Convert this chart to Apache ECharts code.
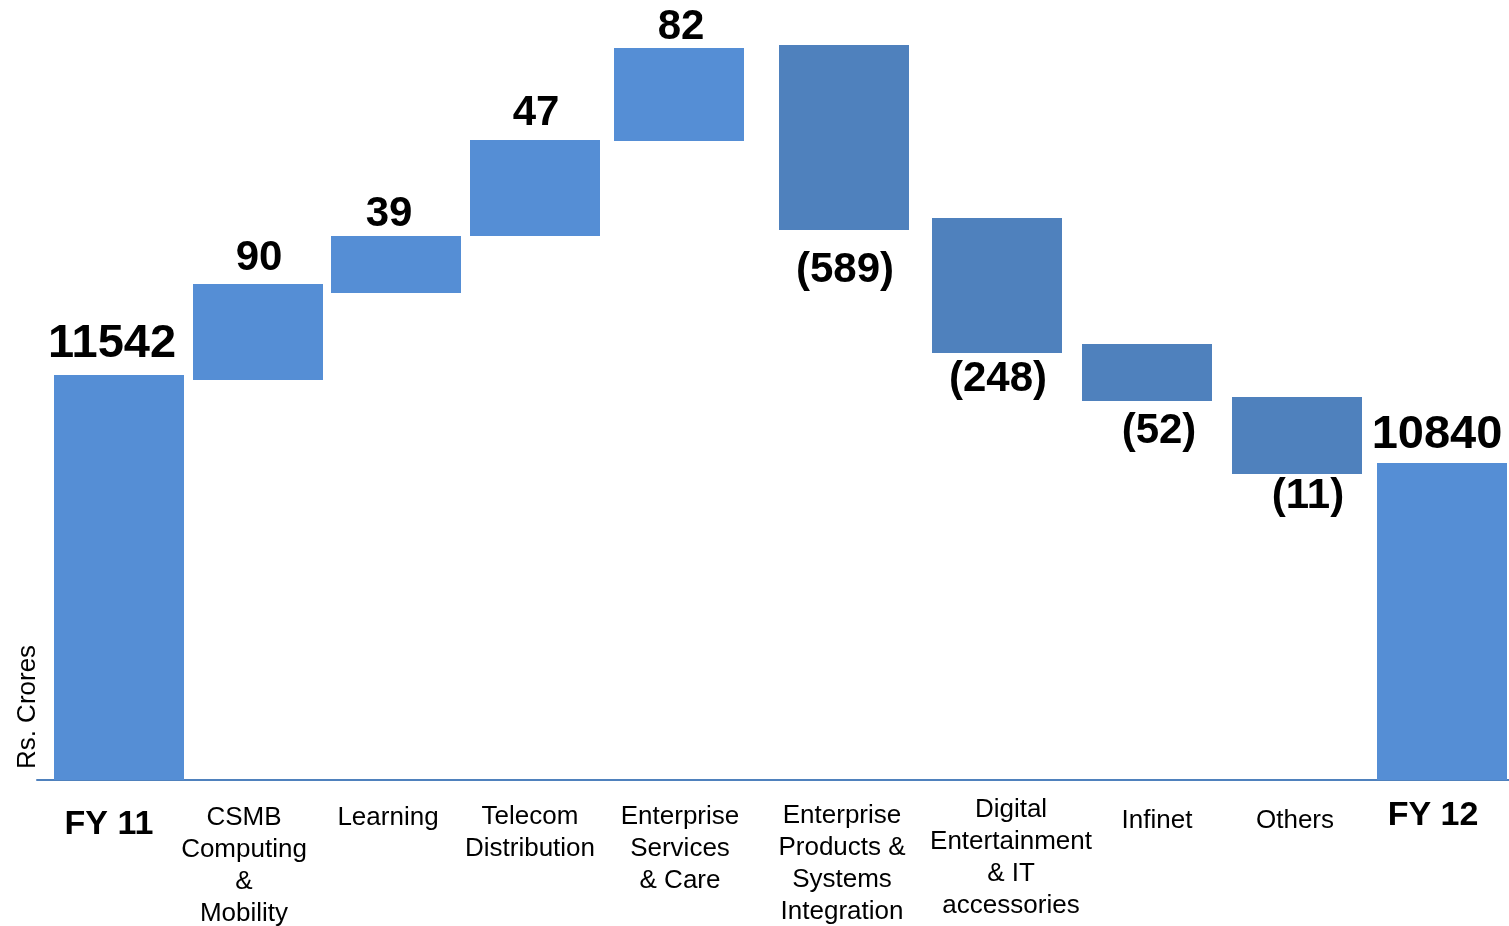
<!DOCTYPE html>
<html>
<head>
<meta charset="utf-8">
<script src="https://cdn.jsdelivr.net/npm/echarts@6/dist/echarts.min.js"></script>
<style>
html,body{margin:0;padding:0;background:#fff;}
#chart{width:1509px;height:926px;}
</style>
</head>
<body>
<div id="chart"></div>
<script>
// ---- data ----
const categories = ['FY 11', 'CSMB\nComputing\n&\nMobility', 'Learning', 'Telecom\nDistribution',
  'Enterprise\nServices\n& Care', 'Enterprise\nProducts &\nSystems\nIntegration',
  'Digital\nEntertainment\n& IT\naccessories', 'Infinet', 'Others', 'FY 12'];
const valueLabels = ['11542', '90', '39', '47', '82', '(589)', '(248)', '(52)', '(11)', '10840'];
const kinds = ['total', 'up', 'up', 'up', 'up', 'down', 'down', 'down', 'down', 'total'];
// category positions along the horizontal scale
const catX = [119, 258, 396, 535, 679, 844, 997, 1147, 1297, 1442];
// bar extents as drawn (visual scale)
const barBase = [0, 400, 487, 544, 639, 550, 427, 379, 306, 0];
const barTop  = [405, 496, 544, 640, 732, 735, 562, 436, 383, 317];
const yTitle = 'Rs. Crores';

// ---- layout (pixel nudges of the text boxes, not data) ----
const valueDX = [-7, 1, -7, 1, 2, 1, 1, 12, 11, -5];
const valueDY = [-33, -28, -24, -29, -23, 38, 24, 28, 20, -30];
const labelDX = [-10, -14, -8, -5, 1, -2, 14, 10, -2, -9];
const labelDY = [43, 36, 36, 35, 35, 34, 28, 39, 39, 34];

// ---- chart ----
const FONT = '"Liberation Sans", Arial, Helvetica, sans-serif';
const BAR_W = 130;
const colors = { total: '#558ED5', up: '#558ED5', down: '#4F81BD' };

const chart = echarts.init(document.getElementById('chart'), null, { renderer: 'canvas' });
const seriesData = categories.map((c, i) => [catX[i], barBase[i], barTop[i]]);

chart.setOption({
  animation: false,
  backgroundColor: '#ffffff',
  grid: { left: 37, right: 0, top: 0, bottom: 146 },
  xAxis: {
    type: 'value', min: 37, max: 1509,
    axisLine: { show: true, onZero: false, lineStyle: { color: '#4F81BD', width: 2 } },
    axisTick: { show: false }, axisLabel: { show: false }, splitLine: { show: false }
  },
  yAxis: {
    type: 'value', min: 0, max: 780, show: false
  },
  graphic: [{
    type: 'text', x: 28, y: 707, rotation: Math.PI / 2,
    style: { text: yTitle, font: '26px ' + FONT, fill: '#000', align: 'center', verticalAlign: 'middle' }
  }],
  series: [{
    type: 'custom',
    clip: false,
    data: seriesData,
    encode: { x: 0, y: [1, 2] },
    renderItem: function (params, api) {
      const i = params.dataIndex;
      const x = api.value(0), b = api.value(1), t = api.value(2);
      const pb = api.coord([x, b]);
      const pt = api.coord([x, t]);
      const w = api.size([BAR_W, 0])[0];
      const kind = kinds[i];
      const isTotal = kind === 'total';
      const children = [{
        type: 'rect',
        shape: { x: pb[0] - w / 2, y: pt[1], width: w, height: pb[1] - pt[1] },
        style: { fill: colors[kind] }
      }];
      const ref = kind === 'down' ? pb[1] : pt[1];
      children.push({
        type: 'text', x: pb[0] + valueDX[i], y: ref + valueDY[i] + 2,
        style: {
          text: valueLabels[i], fill: '#000', align: 'center', verticalAlign: 'middle',
          font: 'bold ' + (isTotal ? 47 : 42) + 'px ' + FONT
        }
      });
      const base = api.coord([x, 0]);
      if (isTotal) {
        children.push({
          type: 'text', x: base[0] + labelDX[i], y: base[1] + labelDY[i] + 2,
          style: { text: categories[i], fill: '#000', align: 'center', verticalAlign: 'middle',
            font: 'bold 34px ' + FONT }
        });
      } else {
        children.push({
          type: 'text', x: base[0] + labelDX[i], y: base[1] + labelDY[i] - 14,
          style: { text: categories[i], fill: '#000', align: 'center', verticalAlign: 'top',
            font: '26px ' + FONT, lineHeight: 32 }
        });
      }
      return { type: 'group', children: children };
    }
  }]
});
</script>
</body>
</html>
